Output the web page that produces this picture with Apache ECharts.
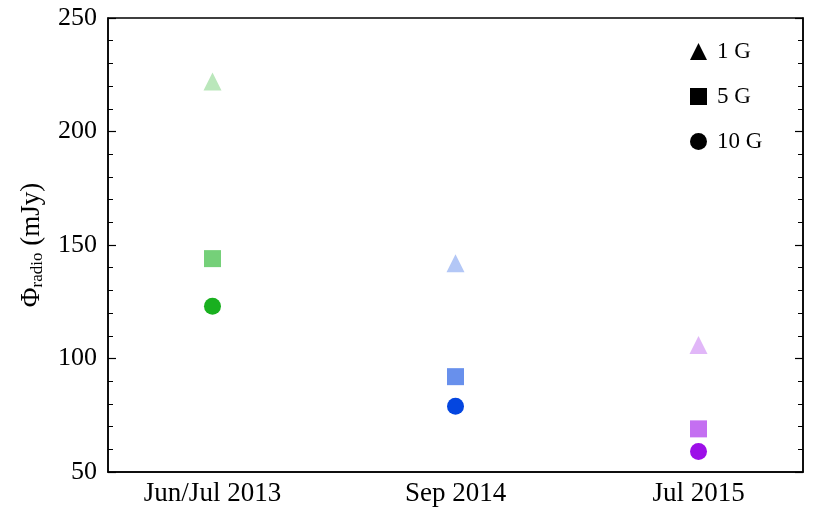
<!DOCTYPE html>
<html>
<head>
<meta charset="utf-8">
<script src="https://cdn.jsdelivr.net/npm/echarts@6/dist/echarts.min.js"></script>
<style>
  html, body { margin: 0; padding: 0; background: #fff; }
  #chart { width: 831px; height: 513px; }
</style>
</head>
<body>
<div id="chart"></div>
<script>
// observing epochs (x positions 0, 1, 2)
var epochs = ['Jun/Jul 2013', 'Sep 2014', 'Jul 2015'];
var epochColors = ['#19b01f', '#0446e0', '#9d0fe8'];

// radio flux (mJy) per magnetic field strength
var flux1G = [222, 142, 106];
var flux5G = [144, 92, 69];
var flux10G = [123, 79, 59];

var yTicks = [50, 100, 150, 200, 250];

var serif = 'Liberation Serif';

function makeSeries(name, values, symbol, size, alpha) {
  return {
    name: name,
    type: 'scatter',
    symbol: symbol,
    symbolSize: size,
    itemStyle: { color: '#000' },
    data: values.map(function (v, i) {
      return {
        value: [i, v],
        itemStyle: { color: epochColors[i], opacity: alpha }
      };
    })
  };
}

var chart = echarts.init(document.getElementById('chart'));
var option = {
  animation: false,
  grid: {
    left: 108, right: 28, top: 18, bottom: 41,
    show: true, borderColor: '#000', borderWidth: 1.5
  },
  legend: {
    orient: 'vertical',
    left: 685,
    top: 35,
    itemWidth: 17,
    itemHeight: 17,
    itemGap: 22,
    textStyle: { fontFamily: serif, fontSize: 23, color: '#000', padding: [0, 0, 0, 5] },
    data: [
      { name: '1 G', icon: 'triangle', itemStyle: { color: '#000', opacity: 1 } },
      { name: '5 G', icon: 'rect', itemStyle: { color: '#000', opacity: 1 } },
      { name: '10 G', icon: 'circle', itemStyle: { color: '#000', opacity: 1 } }
    ]
  },
  xAxis: {
    type: 'value',
    min: -0.43,
    max: 2.43,
    splitLine: { show: false },
    axisLine: { show: true, onZero: false, lineStyle: { color: '#000', width: 1.5 } },
    axisTick: { show: false },
    axisLabel: {
      customValues: [0, 1, 2],
      formatter: function (v) { return epochs[Math.round(v)]; },
      fontFamily: serif, fontSize: 27, color: '#000', margin: 8
    }
  },
  yAxis: [{
    type: 'value',
    min: 50,
    max: 250,
    interval: 50,
    name: '{a|Φ}{sub|radio}{a| (mJy)}',
    nameLocation: 'middle',
    nameGap: 62,
    nameTextStyle: {
      rich: {
        a: { fontFamily: serif, fontSize: 27, color: '#000' },
        sub: { fontFamily: serif, fontSize: 17, color: '#000', padding: [11, 0, 0, 0] }
      }
    },
    splitLine: { show: false },
    axisLine: { show: true, onZero: false, lineStyle: { color: '#000', width: 1.5 } },
    axisTick: { show: true, inside: true, length: 8, lineStyle: { color: '#000', width: 1.2 } },
    minorTick: { show: true, splitNumber: 5, length: 5, lineStyle: { color: '#000', width: 1 } },
    axisLabel: {
      customValues: yTicks,
      fontFamily: serif, fontSize: 26, color: '#000', margin: 11
    }
  }, {
    type: 'value',
    position: 'right',
    min: 50,
    max: 250,
    interval: 50,
    splitLine: { show: false },
    axisLine: { show: true, onZero: false, lineStyle: { color: '#000', width: 1.5 } },
    axisTick: { show: true, inside: true, length: 8, lineStyle: { color: '#000', width: 1.2 } },
    minorTick: { show: true, splitNumber: 5, length: 5, lineStyle: { color: '#000', width: 1 } },
    axisLabel: { show: false }
  }],
  series: [
    makeSeries('1 G', flux1G, 'triangle', 18, 0.3),
    makeSeries('5 G', flux5G, 'rect', 17, 0.6),
    makeSeries('10 G', flux10G, 'circle', 17, 1)
  ]
};
chart.setOption(option);
</script>
</body>
</html>
